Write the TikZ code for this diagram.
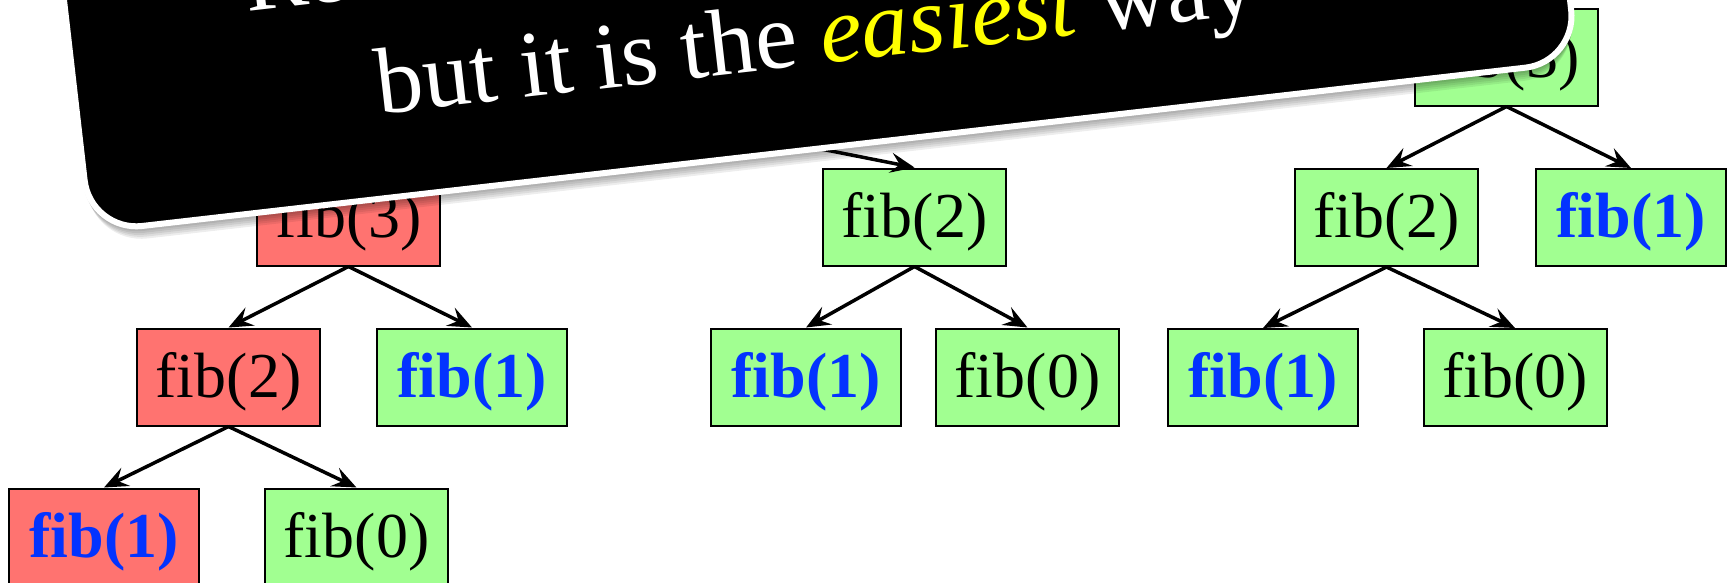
\documentclass[tikz,border=0pt]{standalone}
\usepackage{fontspec}
\setmainfont{Liberation Serif}
\usetikzlibrary{arrows.meta}
\definecolor{boxred}{RGB}{255,115,112}
\definecolor{boxgreen}{RGB}{161,255,145}
\definecolor{baseblue}{RGB}{3,51,255}
\definecolor{hiyellow}{RGB}{255,255,0}
\begin{document}
\begin{tikzpicture}[x=1pt,y=-1pt,
  fibbox/.style={draw=black, line width=2pt, minimum width=183pt, minimum height=97pt,
    inner sep=0pt, text height=50pt, text depth=10pt, font=\fontsize{64}{70}\selectfont},
  dup/.style={fibbox, fill=boxred},
  fresh/.style={fibbox, fill=boxgreen},
  basecase/.style={minimum width=190pt, text=baseblue, font=\fontsize{64}{70}\selectfont\bfseries},
  callarrow/.style={-{Stealth[length=24pt,width=20pt,inset=9pt]}, line width=3.5pt},
  calltext/.style={text=white, inner sep=0pt, transform shape, font=\fontsize{94.5}{110}\selectfont}
]
\useasboundingbox (0,0) rectangle (1733,582);
\clip (0,0) rectangle (1733,582);

% ---- tree 1 (left)
\node[dup] (a3) at (348.5,217) {fib(3)};
\node[dup] (a2) at (228.5,377) {fib(2)};
\node[fresh,basecase] (a1) at (472,377) {fib(1)};
\node[dup,basecase] (a11) at (104,537) {fib(1)};
\node[fresh] (a0) at (356.5,537) {fib(0)};

% ---- tree 2 (middle)
\node[fresh] (b2) at (914.5,217) {fib(2)};
\node[fresh,basecase] (b1) at (806,377) {fib(1)};
\node[fresh] (b0) at (1027.5,377) {fib(0)};
\coordinate (h4) at (604,106);

% ---- tree 3 (right)
\node[fresh] (c3) at (1506.5,57) {fib(3)};
\node[fresh] (c2) at (1386.5,217.5) {fib(2)};
\node[fresh,basecase] (c1) at (1631,217.5) {fib(1)};
\node[fresh,basecase] (c11) at (1263,377.5) {fib(1)};
\node[fresh] (c0) at (1515,377.5) {fib(0)};

% ---- connectors
\draw[callarrow] (a3.south) -- (a2.north);
\draw[callarrow] (a3.south) -- (a1.north);
\draw[callarrow] (a2.south) -- (a11.north);
\draw[callarrow] (a2.south) -- (a0.north);
\draw[callarrow] (h4) -- (b2.north);
\draw[callarrow] (b2.south) -- (b1.north);
\draw[callarrow] (b2.south) -- (b0.north);
\draw[callarrow] (c3.south) -- (c2.north);
\draw[callarrow] (c3.south) -- (c1.north);
\draw[callarrow] (c2.south) -- (c11.north);
\draw[callarrow] (c2.south) -- (c0.north);

% ---- callout
\begin{scope}[shift={(87.9,235.2)}, rotate=6.53]
  \foreach \d in {2,4,6,8,10}
    \fill[black, opacity=0.07, rounded corners=55pt] (\d*0.4,-380) rectangle (1502.3-\d*0.4,\d);
  \draw[white, line width=6pt, fill=black, rounded corners=52pt] (3,-380) rectangle (1499.3,-3);
  \node[calltext, anchor=base west] (l1) at (183.5,-204) {Recursion is very inefficient,};
  \node[calltext, anchor=base] (l2) at (746,-87) {but it is the \textcolor{hiyellow}{\itshape easiest} way};
\end{scope}
\end{tikzpicture}
\end{document}
